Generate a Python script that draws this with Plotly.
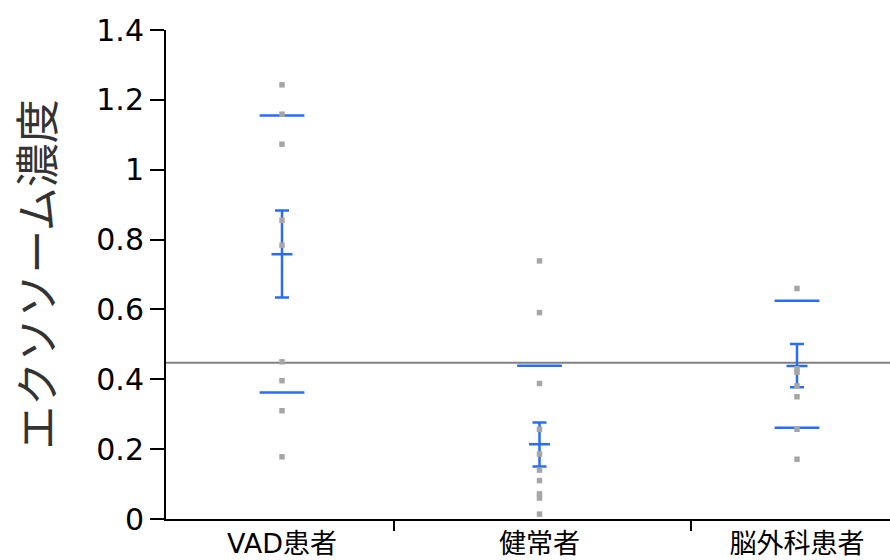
import plotly.graph_objects as go

# ---- data ----
groups = ["VAD患者", "健常者", "脳外科患者"]
positions = [0, 1, 2]
separators = [0.435, 1.59]

points_vad = [1.243, 1.159, 1.073, 0.855, 0.784, 0.450, 0.396, 0.310, 0.178]
points_healthy = [0.739, 0.591, 0.388, 0.257, 0.186, 0.140, 0.110, 0.072, 0.060, 0.014]
points_neuro = [0.660, 0.430, 0.420, 0.381, 0.350, 0.257, 0.171]

means = [0.758, 0.214, 0.438]
se_plus = [0.125, 0.062, 0.063]
se_minus = [0.124, 0.064, 0.061]
sd_upper = [1.155, 0.439, 0.625]
sd_lower = [0.362, None, 0.261]

reference_level = 0.447

y_ticks = [0, 0.2, 0.4, 0.6, 0.8, 1.0, 1.2, 1.4]
y_ticktext = ["0", "0.2", "0.4", "0.6", "0.8", "1", "1.2", "1.4"]

BLUE = "#2b6bfa"
GREY = "#a6a6a6"
FONT = "DejaVu Sans, Noto Sans CJK JP"

fig = go.Figure()

# mean with SE error bars
fig.add_trace(go.Scatter(
    x=positions, y=means, mode="markers",
    marker=dict(symbol="line-ew", size=15, line=dict(color=BLUE, width=2.5)),
    error_y=dict(type="data", symmetric=False, array=se_plus, arrayminus=se_minus,
                 color=BLUE, thickness=2.5, width=7),
    showlegend=False))

# mean ± SD lines
for vals in (sd_upper, sd_lower):
    fig.add_trace(go.Scatter(
        x=positions, y=vals, mode="markers",
        marker=dict(symbol="line-ew", size=32, line=dict(color=BLUE, width=2.5)),
        showlegend=False))

all_points = [points_vad, points_healthy, points_neuro]
for pos, pts in zip(positions, all_points):
    fig.add_trace(go.Scatter(
        x=[pos] * len(pts), y=pts, mode="markers",
        marker=dict(symbol="square", size=5.5, color=GREY),
        showlegend=False, hoverinfo="y"))

# invisible trace to activate separator axis
fig.add_trace(go.Scatter(x=[None], y=[None], xaxis="x2", showlegend=False))

fig.add_shape(type="line", xref="paper", yref="y", x0=0, x1=1,
              y0=reference_level, y1=reference_level,
              line=dict(color="#808080", width=2), layer="below")

x_range = [-0.4505, 2.3612]

fig.update_layout(
    width=890, height=560,
    margin=dict(l=166, r=0, t=30, b=41),
    paper_bgcolor="white", plot_bgcolor="white",
    font=dict(family=FONT, color="black"),
    xaxis=dict(range=x_range, tickvals=positions, ticktext=groups,
               showline=True, linewidth=2, linecolor="black",
               ticks="", ticklen=0,
               showgrid=False, zeroline=False, automargin=False,
               tickfont=dict(family=FONT, size=27, color="black")),
    xaxis2=dict(range=x_range, overlaying="x", anchor="y", side="bottom",
                tickvals=separators, ticktext=["", ""],
                ticks="outside", ticklen=11, tickwidth=2, tickcolor="black",
                showline=False, showgrid=False, zeroline=False, automargin=False),
    yaxis=dict(range=[0, 1.4], tickvals=y_ticks, ticktext=y_ticktext,
               showline=True, linewidth=2, linecolor="black",
               ticks="outside", ticklen=14, tickwidth=2, tickcolor="black",
               showgrid=False, zeroline=False, automargin=False,
               tickfont=dict(family="DejaVu Sans", size=30, color="black"),
               title=dict(text="エクソソーム濃度", standoff=28,
                          font=dict(family="Noto Sans CJK JP", size=44, color="#333"))),
)

fig.write_html("out.html")
